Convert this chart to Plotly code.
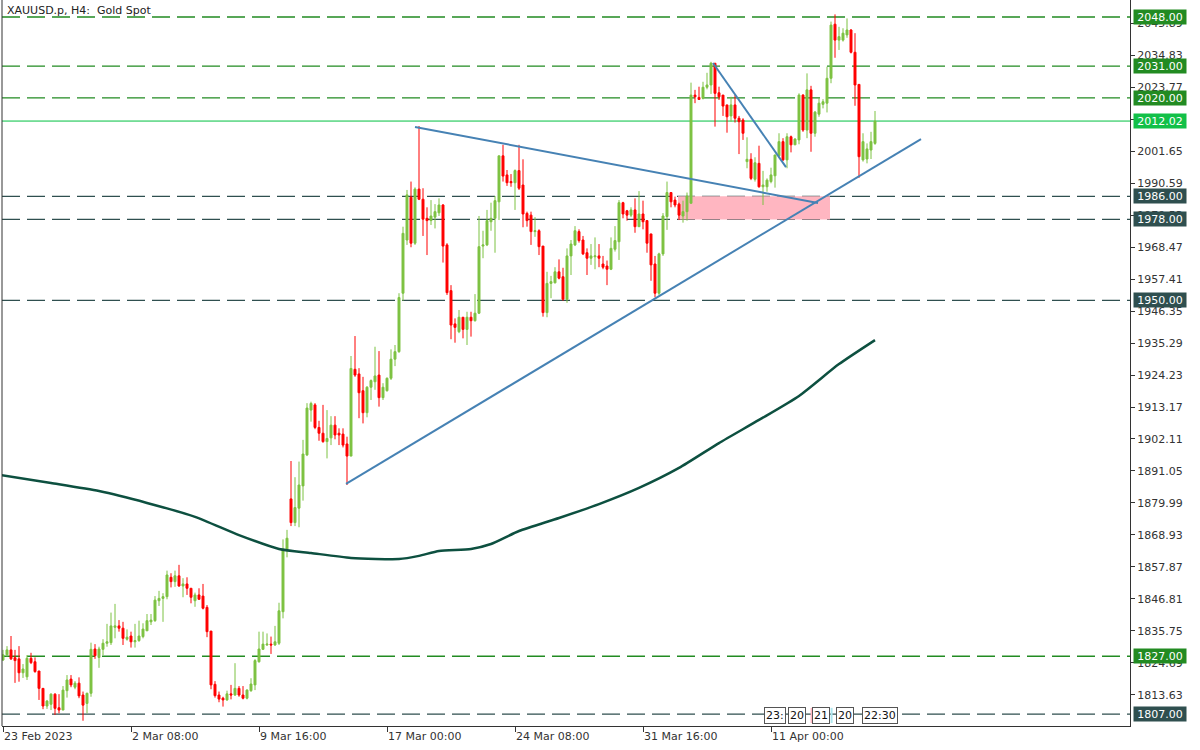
import plotly.graph_objects as go

# ---------------- data ----------------
open_ = [
1825.7,1827.5,1829.2,1826.5,1826.1,1821.3,1819.9,1826.3,1825.1,1821.9,
1815.9,1809.8,1810.4,1813.9,1809.2,1808.4,1815.1,1819.1,1816.3,1817.7,
1813.6,1810.7,1814.2,1829.5,1826.6,1829.4,1831.5,1831.7,1837.0,1837.5,
1836.7,1832.9,1834.0,1832.0,1832.4,1833.8,1835.8,1838.9,1839.3,1846.2,
1847.0,1847.6,1854.3,1852.8,1854.8,1851.3,1852.0,1850.5,1846.2,1848.2,
1847.8,1843.9,1835.7,1817.3,1813.6,1812.5,1811.9,1814.0,1813.6,1815.9,
1813.6,1812.5,1815.1,1817.1,1825.1,1829.4,1830.9,1831.2,1830.9,1831.5,
1842.4,1864.0,1881.4,1873.2,1878.2,1885.9,1896.6,1912.1,1913.9,1906.1,
1904.1,1901.2,1902.5,1906.9,1904.1,1903.8,1900.4,1896.2,1926.2,1924.6,
1918.8,1911.2,1920.0,1921.9,1924.2,1916.4,1918.8,1923.1,1929.7,1932.3,
1952.5,1970.9,1985.7,1969.8,1988.5,1985.0,1978.4,1977.6,1978.8,1980.3,
1983.0,1969.2,1953.4,1941.9,1939.2,1944.2,1940.0,1944.2,1943.0,1945.6,
1968.8,1969.2,1977.2,1978.4,1984.1,2000.0,1993.4,1991.1,1990.7,1994.9,
1989.9,1980.1,1979.5,1973.8,1974.1,1968.8,1945.8,1955.9,1956.1,1959.9,
1958.2,1950.4,1965.4,1969.2,1973.8,1970.9,1966.5,1964.6,1965.1,1965.4,
1962.6,1961.9,1960.8,1967.7,1970.3,1983.8,1981.0,1979.5,1981.3,1975.5,
1979.9,1977.6,1973.0,1962.6,1952.5,1966.1,1979.0,1987.3,1984.7,1983.3,
1979.2,1980.7,1983.6,2021.0,2020.2,2019.9,2023.7,2024.5,2032.0,2021.8,
2021.0,2017.6,2013.8,2017.6,2013.0,2012.4,1998.0,1998.8,1991.9,1997.4,
1989.3,1989.3,1991.1,1993.1,2000.0,2004.9,1998.6,2006.6,2003.8,2005.5,
2021.0,2008.9,2022.8,2007.8,2014.4,2017.8,2018.2,2026.8,2045.5,2040.0,
2040.0,2041.8,2043.5,2035.8,2024.7,1998.6,1998.9,2002.0,2004.3]

high = [
1829.2,1830.5,1834.0,1829.2,1830.5,1824.3,1827.4,1828.2,1826.6,1821.9,
1816.0,1811.9,1814.2,1814.2,1813.9,1816.7,1820.5,1820.5,1818.4,1819.7,
1814.8,1814.4,1831.7,1831.2,1830.3,1832.9,1838.2,1842.1,1845.1,1839.5,
1838.9,1836.3,1835.5,1838.2,1839.3,1838.4,1841.6,1841.6,1847.8,1849.6,
1848.8,1856.6,1855.7,1856.6,1858.6,1854.0,1854.3,1850.5,1849.0,1850.5,
1852.0,1844.7,1835.7,1818.4,1814.8,1813.0,1815.1,1817.1,1824.6,1816.7,
1816.7,1815.6,1819.4,1826.0,1835.5,1835.5,1834.9,1833.8,1837.5,1845.5,
1867.4,1870.7,1894.5,1888.9,1894.3,1901.8,1914.5,1915.0,1914.5,1908.4,
1913.9,1912.1,1910.0,1910.0,1905.8,1905.8,1902.9,1930.8,1937.7,1926.6,
1923.6,1920.4,1922.7,1934.0,1932.5,1921.4,1923.4,1933.1,1934.6,1952.5,
1975.5,1988.2,1991.1,1989.1,2010.3,1988.8,1982.2,1984.7,1983.3,1985.3,
1983.3,1969.8,1955.3,1943.8,1946.7,1944.2,1946.1,1946.1,1952.2,1979.2,
1974.1,1981.3,1983.8,1986.1,2000.0,2003.8,1995.1,1993.7,1995.3,2003.8,
1998.8,1980.7,1980.7,1978.8,1974.6,1968.8,1959.9,1958.5,1961.5,1964.2,
1961.3,1968.0,1970.9,1975.7,1974.6,1972.3,1968.0,1969.5,1971.8,1969.5,
1965.4,1963.8,1971.8,1975.7,1984.7,1984.1,1981.3,1982.2,1985.3,1987.8,
1984.5,1977.8,1973.0,1965.4,1966.5,1980.2,1991.1,1987.3,1985.9,1983.8,
1984.5,1987.3,2025.3,2022.8,2023.9,2025.6,2028.7,2032.5,2032.0,2023.9,
2021.0,2017.6,2020.4,2021.0,2013.8,2013.0,2006.4,2000.9,1999.5,2003.5,
1994.8,1992.2,1995.9,2000.3,2007.8,2006.1,2007.8,2007.0,2006.1,2021.6,
2021.3,2028.5,2024.2,2015.5,2019.9,2019.6,2030.8,2046.4,2048.9,2044.6,
2044.1,2047.5,2043.8,2042.4,2024.7,2007.8,2004.3,2008.3,2015.5]

low = [
1825.4,1826.9,1825.7,1817.8,1818.2,1819.5,1818.8,1824.3,1821.3,1811.9,
1808.7,1808.8,1808.4,1806.7,1807.3,1808.4,1812.7,1816.3,1815.6,1812.5,
1804.7,1807.3,1813.0,1826.1,1823.0,1827.4,1830.3,1830.9,1833.2,1835.5,
1830.9,1832.4,1830.0,1830.0,1832.0,1833.2,1835.8,1837.8,1838.9,1844.4,
1838.9,1846.7,1850.8,1851.0,1851.0,1847.4,1848.2,1845.3,1844.1,1846.5,
1843.2,1833.6,1815.6,1812.7,1811.1,1809.6,1811.6,1812.1,1813.3,1813.0,
1812.1,1812.1,1814.7,1815.3,1824.8,1829.2,1830.6,1827.8,1830.6,1830.9,
1840.1,1861.2,1872.0,1872.0,1871.6,1880.8,1896.2,1908.1,1905.5,1901.5,
1900.8,1895.4,1900.0,1902.0,1900.0,1899.2,1886.2,1896.2,1923.6,1909.3,
1907.5,1909.6,1915.6,1919.1,1913.3,1915.6,1918.5,1922.5,1927.3,1931.9,
1949.9,1969.2,1968.4,1969.2,1984.7,1972.3,1965.7,1976.1,1974.9,1979.2,
1963.1,1951.9,1936.6,1935.4,1938.7,1936.9,1934.6,1937.5,1942.7,1945.3,
1964.6,1968.8,1974.1,1966.5,1977.8,1991.1,1989.6,1989.3,1981.3,1988.2,
1975.3,1975.5,1969.2,1972.0,1965.7,1944.4,1944.2,1950.8,1955.9,1957.3,
1949.9,1949.2,1958.8,1968.8,1970.0,1965.7,1958.8,1962.3,1960.8,1961.5,
1960.8,1955.3,1960.5,1966.9,1964.0,1978.4,1977.6,1978.8,1973.4,1975.5,
1974.6,1966.5,1956.8,1951.1,1951.9,1965.4,1974.4,1982.2,1982.2,1977.8,
1976.9,1977.6,1983.6,2018.2,2019.3,2019.5,2023.0,2021.4,2010.1,2019.3,
2013.8,2008.0,2011.8,2011.5,2000.6,2005.5,1995.7,1991.6,1991.1,1989.0,
1983.0,1987.6,1990.5,1989.0,1999.2,1998.2,1995.7,2001.2,2003.8,2004.0,
2008.3,2006.1,2001.4,2006.6,2013.5,2016.4,2015.0,2025.1,2033.9,2036.6,
2039.5,2040.8,2035.4,2017.3,1992.4,1998.0,1997.4,1998.9,2003.8]

close = [
1827.5,1829.2,1826.1,1825.5,1821.3,1822.6,1826.3,1824.8,1821.7,1815.9,
1809.8,1811.5,1813.9,1809.0,1808.4,1815.3,1818.8,1817.1,1817.7,1813.3,
1810.1,1814.2,1829.4,1827.2,1829.5,1831.5,1832.0,1837.5,1837.5,1836.7,
1833.2,1833.6,1832.0,1832.4,1834.0,1836.4,1839.3,1839.5,1846.4,1847.0,
1847.6,1855.1,1852.8,1854.8,1851.3,1852.0,1850.5,1847.4,1848.2,1846.7,
1843.6,1835.5,1817.1,1813.4,1812.2,1811.9,1814.0,1813.6,1815.9,1813.6,
1812.5,1815.3,1817.4,1825.5,1829.5,1831.2,1831.2,1830.9,1832.0,1842.7,
1864.0,1867.8,1873.2,1878.4,1886.2,1896.9,1912.8,1914.4,1906.1,1904.1,
1901.2,1902.3,1906.9,1903.5,1903.5,1900.0,1896.2,1926.5,1924.2,1918.1,
1911.2,1920.0,1922.3,1923.9,1916.4,1920.0,1923.1,1929.7,1932.3,1951.0,
1973.2,1986.5,1969.8,1988.5,1985.0,1978.1,1977.6,1979.2,1980.7,1983.0,
1968.8,1952.7,1941.5,1940.7,1944.2,1940.0,1944.2,1943.0,1945.6,1968.6,
1969.2,1977.6,1978.4,1984.5,2000.0,1993.0,1990.7,1990.7,1994.9,1988.8,
1979.9,1977.6,1973.8,1974.1,1968.6,1945.8,1955.9,1956.5,1959.9,1957.7,
1950.4,1965.4,1969.5,1974.1,1970.7,1966.1,1964.6,1965.4,1965.4,1964.6,
1961.5,1960.8,1968.0,1970.7,1983.8,1979.9,1979.5,1981.3,1975.5,1979.9,
1977.2,1969.8,1962.3,1952.5,1966.1,1979.2,1987.3,1984.1,1983.0,1979.5,
1980.7,1986.1,2021.0,2020.4,2019.5,2023.7,2024.5,2032.0,2021.6,2020.4,
2017.2,2013.5,2017.6,2013.0,2011.8,2007.8,1998.8,1992.2,1997.6,1989.3,
1989.9,1991.6,1993.4,2000.3,2004.9,1998.6,2006.6,2003.8,2005.8,2021.0,
2008.9,2022.8,2007.8,2015.1,2018.2,2018.7,2026.8,2045.2,2040.0,2041.2,
2042.4,2043.5,2035.8,2024.5,1999.7,2004.9,2002.4,2004.9,2012.0]

bar_index = list(range(len(close)))

# moving average (read at selected bars)
ma_x = [-0.75, 12, 24, 36, 48, 59, 69, 77, 87, 99, 104, 109, 117, 122, 129,
        139, 149, 159, 169, 179, 189, 199, 209, 218]
ma_y = [1889.7, 1886.9, 1884.1, 1880.0, 1875.2, 1868.9, 1864.1, 1862.7, 1861.0,
        1860.6, 1861.7, 1863.4, 1864.1, 1865.8, 1870.3, 1874.8, 1879.6, 1885.2,
        1892.1, 1900.7, 1908.7, 1917.0, 1928.0, 1936.3]

# x-axis labels
xtick_pos = [0, 32, 64, 96, 128, 160, 192]
xtick_text = ["23 Feb 2023", "2 Mar 08:00", "9 Mar 16:00", "17 Mar 00:00",
              "24 Mar 08:00", "31 Mar 16:00", "11 Apr 00:00"]

# y-axis labels
ytick_vals = [1813.63, 1824.69, 1835.75, 1846.81, 1857.87, 1868.93, 1879.99,
              1891.05, 1902.11, 1913.17, 1924.23, 1935.29, 1946.35, 1957.41,
              1968.47, 1979.53, 1990.59, 2001.65, 2012.71, 2023.77, 2034.83,
              2045.89]

# horizontal levels
levels_green = [2048.00, 2031.00, 2020.00, 1827.00]
levels_dark = [1986.00, 1978.00, 1950.00, 1807.00]
last_price = 2012.02

# drawn trend lines (bar index, price)
trend_down_x = [103.0, 203.75]
trend_down_y = [2010.0, 1983.7]
trend_up_x = [85.75, 229.5]
trend_up_y = [1886.6, 2005.8]
trend_short_x = [177.5, 195.75]
trend_short_y = [2032.1, 1996.1]

zone_x = [168.75, 206.75]
zone_y = [1978.0, 1986.0]

# ---------------- figure ----------------
GREEN = "#7dc242"
RED = "#ff0000"
LVL_GREEN = "#228b22"
LVL_DARK = "#2f4f4f"
BLUE = "#4682b4"
MA_COLOR = "#0d5040"
FONT = "DejaVu Sans"

fig = go.Figure()

fig.add_trace(go.Candlestick(
    x=bar_index, open=open_, high=high, low=low, close=close,
    increasing=dict(line=dict(color=GREEN, width=1), fillcolor=GREEN),
    decreasing=dict(line=dict(color=RED, width=1), fillcolor=RED),
    whiskerwidth=0, showlegend=False, hoverinfo="skip"))

fig.add_trace(go.Scatter(x=ma_x, y=ma_y, mode="lines",
                         line=dict(color=MA_COLOR, width=2.5, shape="spline", smoothing=0.6),
                         showlegend=False, hoverinfo="skip"))

for tx, ty in [(trend_down_x, trend_down_y), (trend_up_x, trend_up_y),
               (trend_short_x, trend_short_y)]:
    fig.add_trace(go.Scatter(x=tx, y=ty, mode="lines",
                             line=dict(color=BLUE, width=2),
                             showlegend=False, hoverinfo="skip"))

shapes = []
shapes.append(dict(type="rect", xref="x", yref="y", x0=zone_x[0], x1=zone_x[1],
                   y0=zone_y[0], y1=zone_y[1], fillcolor="#ffb6c1",
                   line=dict(width=0), layer="below"))
for lv in levels_green:
    shapes.append(dict(type="line", xref="paper", yref="y", x0=0, x1=1, y0=lv, y1=lv,
                       line=dict(color=LVL_GREEN, width=1.3, dash="18px,7px"), layer="below"))
for lv in levels_dark:
    shapes.append(dict(type="line", xref="paper", yref="y", x0=0, x1=1, y0=lv, y1=lv,
                       line=dict(color=LVL_DARK, width=1.3, dash="18px,7px"), layer="below"))
shapes.append(dict(type="line", xref="paper", yref="y", x0=0, x1=1,
                   y0=last_price, y1=last_price,
                   line=dict(color="#00c040", width=1), layer="below"))
# left border
shapes.append(dict(type="line", xref="paper", yref="paper", x0=0, x1=0, y0=0, y1=1,
                   line=dict(color="#333333", width=1)))
# small time-separator marks at bottom
shapes.append(dict(type="rect", xref="x", yref="paper", x0=201.9, x1=202.4,
                   y0=0.004, y1=0.025, fillcolor="#ffb6c1", line=dict(width=0)))
shapes.append(dict(type="rect", xref="x", yref="paper", x0=206.9, x1=207.4,
                   y0=0.004, y1=0.025, fillcolor="#aee6ee", line=dict(width=0)))

annotations = []
annotations.append(dict(xref="paper", yref="paper", x=0, y=1, xanchor="left",
                        yanchor="top", xshift=3, yshift=-2, showarrow=False,
                        text="XAUUSD.p,\u00a0H4:\u00a0\u00a0Gold\u00a0Spot",
                        font=dict(family=FONT, size=11, color="#222222")))

def price_label(val, bg):
    return dict(xref="paper", yref="y", x=1, y=val, xanchor="left", yanchor="middle",
                xshift=3, showarrow=False, text=f"{val:.2f}", bgcolor=bg,
                width=50, height=12, borderpad=1,
                font=dict(family=FONT, size=11, color="white"))

for lv in levels_green:
    annotations.append(price_label(lv, LVL_GREEN))
for lv in levels_dark:
    annotations.append(price_label(lv, LVL_DARK))
annotations.append(price_label(last_price, "#12c048"))

# bottom time boxes
time_boxes = [("23:", 193.0), ("20", 198.6), ("21", 204.6), ("20", 210.6), ("22:30", 219.3)]
for txt, xp in time_boxes:
    annotations.append(dict(xref="x", yref="paper", x=xp, y=0.0145, xanchor="center",
                            yanchor="middle", showarrow=False, text=txt,
                            bgcolor="white", bordercolor="#555555", borderwidth=1,
                            borderpad=1, font=dict(family=FONT, size=11, color="#111111")))

fig.update_layout(
    width=1200, height=750,
    margin=dict(l=2, r=70, t=0, b=24),
    paper_bgcolor="white", plot_bgcolor="white",
    shapes=shapes, annotations=annotations,
    showlegend=False,
    font=dict(family=FONT, size=11, color="#333333"),
    xaxis=dict(range=[-0.25, 281.75], rangeslider=dict(visible=False),
               tickmode="array", tickvals=xtick_pos, ticktext=xtick_text,
               ticks="outside", ticklen=5, tickcolor="#333333",
               ticklabelposition="outside right",
               showgrid=False, zeroline=False, showline=True,
               linecolor="#333333", linewidth=1,
               tickfont=dict(family=FONT, size=11, color="#333333")),
    yaxis=dict(range=[1802.89, 2053.87], side="right",
               tickmode="array", tickvals=ytick_vals,
               ticktext=[f"{v:.2f}" for v in ytick_vals],
               ticks="outside", ticklen=4, tickcolor="#333333",
               showgrid=False, zeroline=False, showline=True,
               linecolor="#333333", linewidth=1,
               tickfont=dict(family=FONT, size=11, color="#333333")),
)

fig.write_html("out.html", config={"displayModeBar": False},
               post_script="document.body.style.margin='0';document.body.style.overflow='hidden';")
